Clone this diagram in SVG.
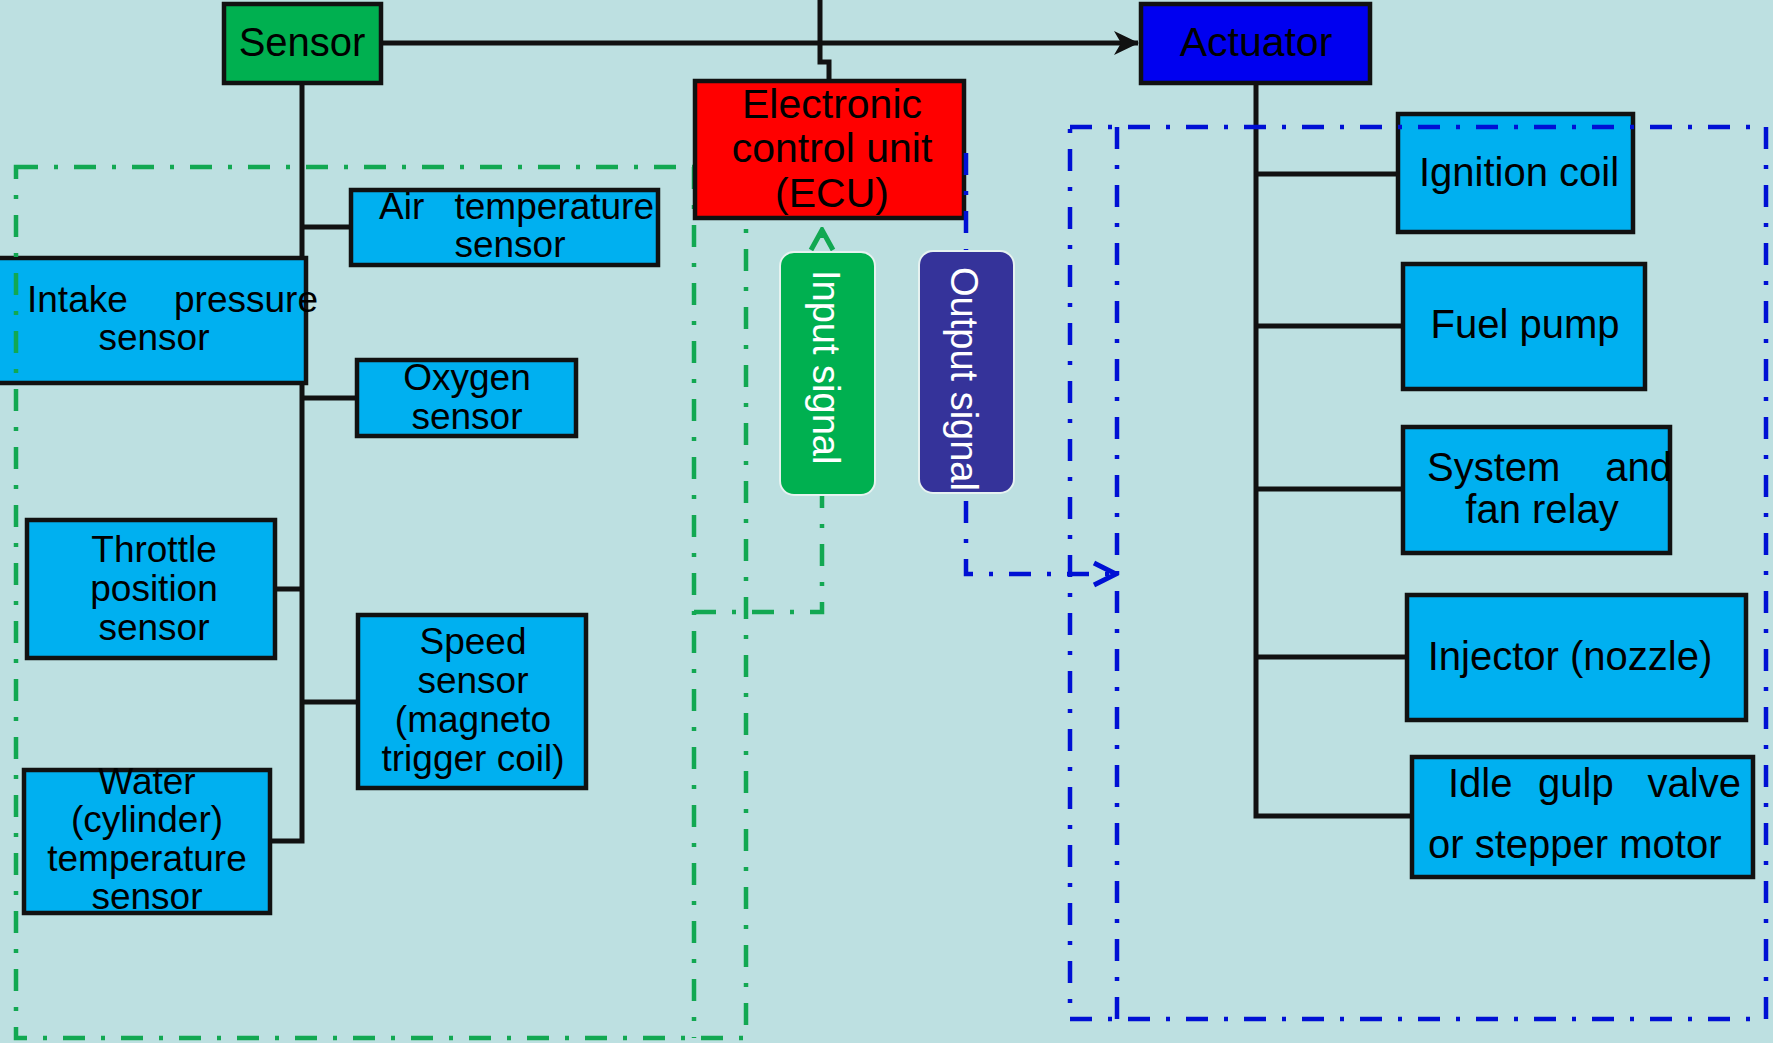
<svg xmlns="http://www.w3.org/2000/svg" width="1773" height="1043" viewBox="0 0 1773 1043">
<defs>
<style>
.box{stroke:#111;stroke-width:4.5}
.leaf{fill:#00b0f0}
.t{font-family:"Liberation Sans",Arial,sans-serif;fill:#000}
.s37{font-size:37px}
.s40{font-size:40px}
.w{fill:#fff;font-family:"Liberation Sans",Arial,sans-serif;font-size:38px}
.wire{fill:none;stroke:#111;stroke-width:5}
.gdash{fill:none;stroke:#12a852;stroke-width:4.5;stroke-dasharray:22 16 4 16}
.bdash{fill:none;stroke:#0010d4;stroke-width:4.5;stroke-dasharray:22 16 4 16}
.sig{stroke:#e6f2f0;stroke-width:2}
</style>
<marker id="arrowBlack" viewBox="0 0 26 26" refX="25" refY="13" markerWidth="26" markerHeight="26" markerUnits="userSpaceOnUse" orient="auto">
<path d="M1,1 L26,13 L1,25 L8,13 Z" fill="#111"/>
</marker>
<marker id="chevBlue" viewBox="0 0 28 28" refX="25" refY="14" markerWidth="28" markerHeight="28" markerUnits="userSpaceOnUse" orient="auto">
<path d="M3,3 L25,14 L3,25" fill="none" stroke="#0010d4" stroke-width="5" stroke-dasharray="none"/>
</marker>
<marker id="chevGreen" viewBox="0 0 28 28" refX="25" refY="14" markerWidth="28" markerHeight="28" markerUnits="userSpaceOnUse" orient="auto">
<path d="M5,3 L25,14 L5,25" fill="none" stroke="#12a852" stroke-width="5" stroke-dasharray="none"/>
</marker>
</defs>
<rect x="0" y="0" width="1773" height="1043" fill="#bde0e1"/>

<g id="connectors">
<path class="wire" d="M820,0 V62 H829 V81"/>
<path class="wire" d="M381,43 H1138" marker-end="url(#arrowBlack)"/>
<path class="wire" d="M302,83 V841 H270"/>
<path class="wire" d="M302,227 H351"/>
<path class="wire" d="M302,398 H357"/>
<path class="wire" d="M302,589 H275"/>
<path class="wire" d="M302,702 H358"/>
<path class="wire" d="M1256,83 V816 H1412"/>
<path class="wire" d="M1256,174 H1398"/>
<path class="wire" d="M1256,326 H1403"/>
<path class="wire" d="M1256,489 H1403"/>
<path class="wire" d="M1256,657 H1407"/>
</g>

<g id="sensor">
<rect class="box" x="224" y="4" width="157" height="79" fill="#00b050"/>
<text class="t s40" x="302" y="56" text-anchor="middle">Sensor</text>
</g>
<g id="actuator">
<rect class="box" x="1141" y="4" width="229" height="79" fill="#0000f0"/>
<text class="t" font-size="41" x="1256" y="56" text-anchor="middle">Actuator</text>
</g>

<g id="air-temperature-sensor">
<rect class="box leaf" x="351" y="190" width="307" height="75"/>
<text class="t s37"><tspan x="379" y="219">Air</tspan><tspan x="654" y="219" text-anchor="end">temperature</tspan><tspan x="510" y="257" text-anchor="middle">sensor</tspan></text>
</g>
<g id="intake-pressure-sensor">
<rect class="box" x="-3" y="258" width="309" height="125" fill="#00b0f0"/>
<text class="t s37"><tspan x="27" y="312">Intake</tspan><tspan x="318" y="312" text-anchor="end">pressure</tspan><tspan x="154" y="350" text-anchor="middle">sensor</tspan></text>
</g>
<g id="oxygen-sensor">
<rect class="box leaf" x="357" y="360" width="219" height="76"/>
<text class="t s37" text-anchor="middle"><tspan x="467" y="390">Oxygen</tspan><tspan x="467" y="429">sensor</tspan></text>
</g>
<g id="throttle-position-sensor">
<rect class="box leaf" x="27" y="520" width="248" height="138"/>
<text class="t s37" text-anchor="middle"><tspan x="154" y="562">Throttle</tspan><tspan x="154" y="601">position</tspan><tspan x="154" y="640">sensor</tspan></text>
</g>
<g id="speed-sensor">
<rect class="box leaf" x="358" y="615" width="228" height="173"/>
<text class="t s37" text-anchor="middle"><tspan x="473" y="654">Speed</tspan><tspan x="473" y="693">sensor</tspan><tspan x="473" y="732">(magneto</tspan><tspan x="473" y="771">trigger coil)</tspan></text>
</g>
<g id="water-temperature-sensor">
<rect class="box leaf" x="24" y="770" width="246" height="143"/>
<text class="t s37" text-anchor="middle"><tspan x="147" y="794">Water</tspan><tspan x="147" y="832">(cylinder)</tspan><tspan x="147" y="871">temperature</tspan><tspan x="147" y="909">sensor</tspan></text>
</g>

<g id="ignition-coil">
<rect class="box leaf" x="1398" y="114" width="235" height="118"/>
<text class="t s40" x="1519" y="186" text-anchor="middle">Ignition coil</text>
</g>
<g id="fuel-pump">
<rect class="box leaf" x="1403" y="264" width="242" height="125"/>
<text class="t s40" x="1525" y="338" text-anchor="middle">Fuel pump</text>
</g>
<g id="system-fan-relay">
<rect class="box leaf" x="1403" y="427" width="267" height="126"/>
<text class="t s40"><tspan x="1427" y="481">System</tspan><tspan x="1672" y="481" text-anchor="end">and</tspan><tspan x="1542" y="523" text-anchor="middle">fan relay</tspan></text>
</g>
<g id="injector">
<rect class="box leaf" x="1407" y="595" width="339" height="125"/>
<text class="t s40" x="1570" y="670" text-anchor="middle">Injector (nozzle)</text>
</g>
<g id="idle-valve">
<rect class="box leaf" x="1412" y="757" width="341" height="120"/>
<text class="t s40"><tspan x="1448" y="797">Idle</tspan><tspan x="1538" y="797">gulp</tspan><tspan x="1741" y="797" text-anchor="end">valve</tspan><tspan x="1428" y="858">or stepper motor</tspan></text>
</g>

<g id="frames">
<path class="gdash" d="M16,167 H746 V1038 H16 Z"/>
<path class="gdash" d="M694,167 V1038"/>
<path class="bdash" d="M1070,127 H1766 V1019 H1070 Z"/>
<path class="bdash" d="M1117,127 V1019"/>
</g>

<g id="ecu">
<rect class="box" x="695" y="81" width="269" height="137" fill="#ff0000"/>
<text class="t" font-size="41" text-anchor="middle"><tspan x="832" y="118">Electronic</tspan><tspan x="832" y="162">control unit</tspan><tspan x="832" y="207">(ECU)</tspan></text>
</g>

<g id="signal-connectors">
<path class="gdash" d="M694,612 H822 V230" marker-end="url(#chevGreen)"/>
<path class="bdash" d="M966,153 V574 H1116" marker-end="url(#chevBlue)"/>
</g>

<g id="input-signal">
<rect class="sig" x="780" y="252" width="95" height="243" rx="14" fill="#00b050"/>
<text class="w" transform="translate(813,270) rotate(90)">Input signal</text>
</g>
<g id="output-signal">
<rect class="sig" x="919" y="251" width="95" height="242" rx="14" fill="#35339a"/>
<text class="w" transform="translate(951,267) rotate(90)">Output signal</text>
</g>
</svg>
